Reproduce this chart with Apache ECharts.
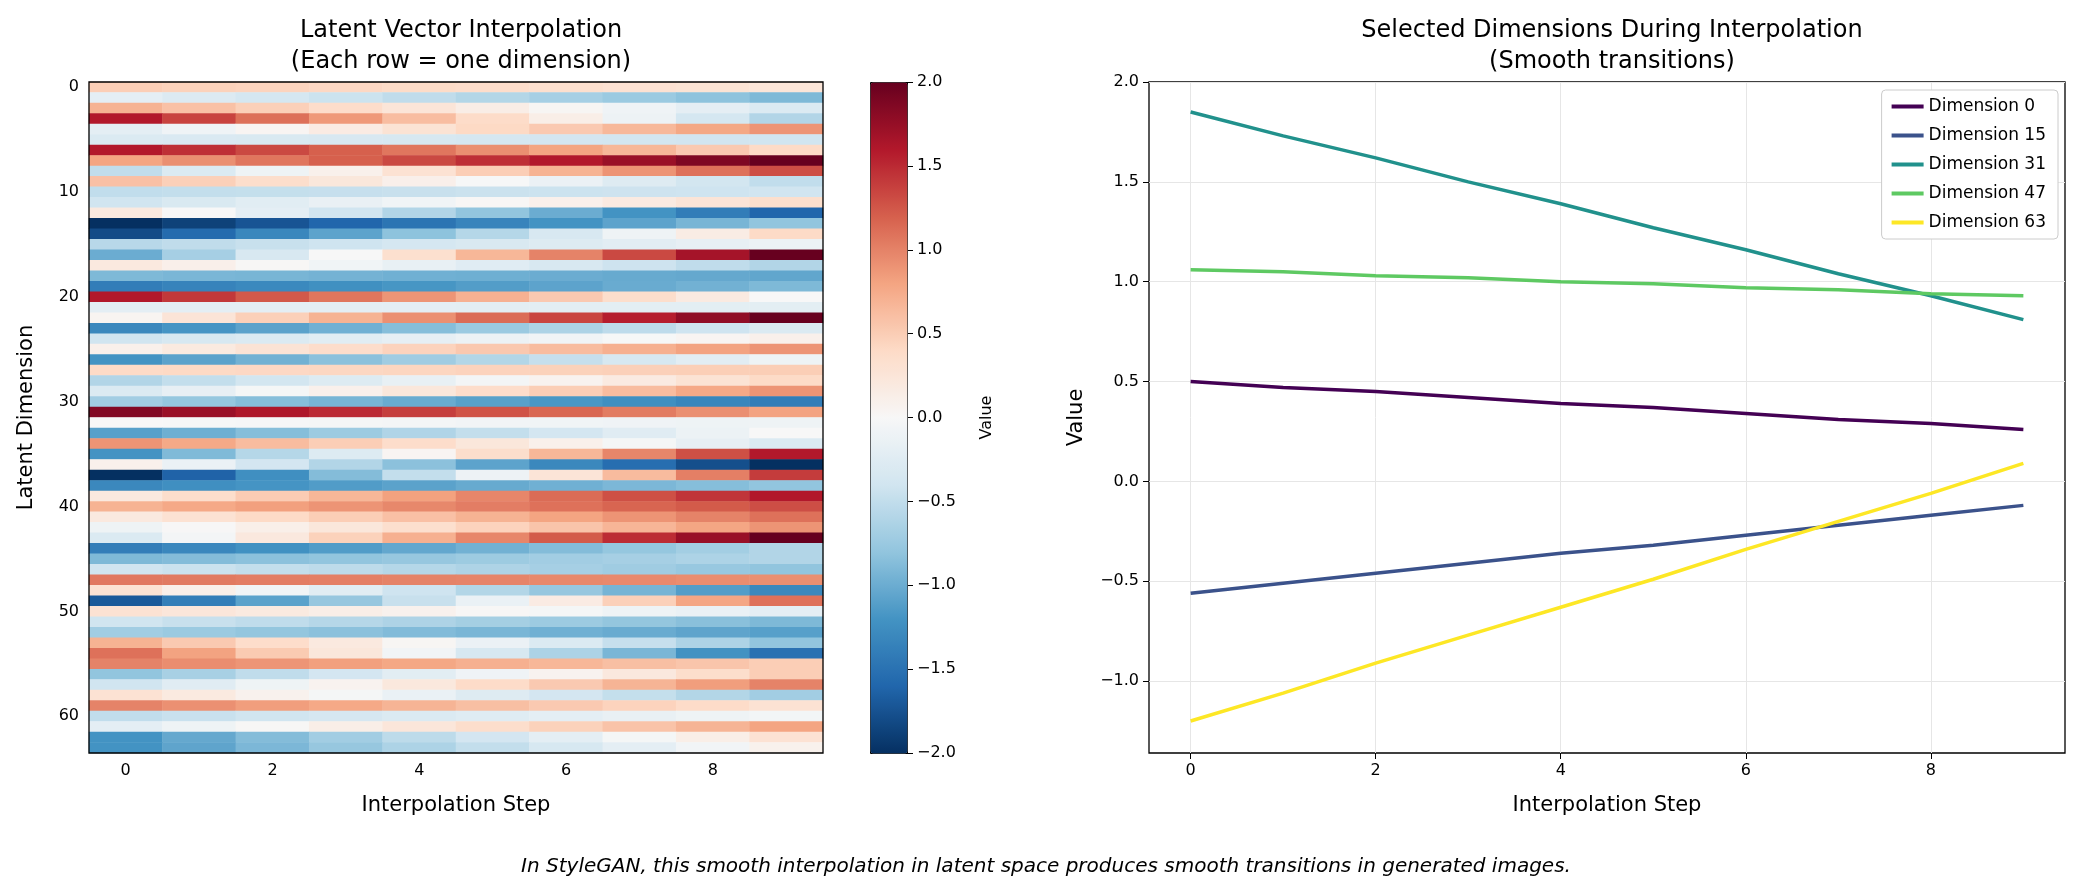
<!DOCTYPE html>
<html><head><meta charset="utf-8">
<script src="https://cdn.jsdelivr.net/npm/echarts@6/dist/echarts.min.js"></script>
<style>html,body{margin:0;padding:0;background:#fff}#c{width:2082px;height:893px}</style>
</head><body><div id="c"></div>
<script>
const steps = [0,1,2,3,4,5,6,7,8,9];
const dims = Array.from({length:64},(_, i)=>String(i));
const latentRows = [
[0.5,0.47,0.45,0.42,0.39,0.37,0.34,0.31,0.29,0.26],
[-0.2,-0.28,-0.36,-0.43,-0.51,-0.59,-0.67,-0.74,-0.82,-0.9],
[0.7,0.59,0.48,0.37,0.26,0.14,0.03,-0.08,-0.19,-0.3],
[1.6,1.36,1.11,0.87,0.62,0.38,0.13,-0.11,-0.36,-0.6],
[-0.2,-0.08,0.04,0.17,0.29,0.41,0.53,0.66,0.78,0.9],
[-0.3,-0.31,-0.32,-0.33,-0.34,-0.36,-0.37,-0.38,-0.39,-0.4],
[1.6,1.47,1.33,1.2,1.07,0.93,0.8,0.67,0.53,0.4],
[0.8,0.93,1.07,1.2,1.33,1.47,1.6,1.73,1.87,2.0],
[-0.5,-0.3,-0.1,0.1,0.3,0.5,0.7,0.9,1.1,1.3],
[0.6,0.48,0.36,0.23,0.11,-0.01,-0.13,-0.26,-0.38,-0.5],
[-0.5,-0.49,-0.48,-0.47,-0.46,-0.44,-0.43,-0.42,-0.41,-0.4],
[-0.4,-0.32,-0.23,-0.15,-0.07,0.02,0.1,0.18,0.27,0.35],
[0.2,0,-0.2,-0.4,-0.6,-0.8,-1.0,-1.2,-1.4,-1.6],
[-2,-1.87,-1.73,-1.6,-1.47,-1.33,-1.2,-1.07,-0.93,-0.8],
[-1.8,-1.56,-1.31,-1.07,-0.82,-0.58,-0.33,-0.09,0.16,0.4],
[-0.56,-0.51,-0.46,-0.41,-0.36,-0.32,-0.27,-0.22,-0.17,-0.12],
[-1,-0.67,-0.33,0,0.33,0.67,1,1.33,1.67,2],
[0.2,0.11,0.02,-0.07,-0.16,-0.24,-0.33,-0.42,-0.51,-0.6],
[-0.9,-0.92,-0.93,-0.95,-0.97,-0.98,-1,-1.02,-1.03,-1.05],
[-1.4,-1.34,-1.29,-1.23,-1.18,-1.12,-1.07,-1.01,-0.96,-0.9],
[1.6,1.42,1.24,1.07,0.89,0.71,0.53,0.36,0.18,0],
[-0.2,-0.2,-0.2,-0.2,-0.2,-0.21,-0.21,-0.21,-0.21,-0.21],
[0.05,0.27,0.48,0.7,0.92,1.13,1.35,1.57,1.78,2.0],
[-1.3,-1.19,-1.08,-0.97,-0.86,-0.74,-0.63,-0.52,-0.41,-0.3],
[-0.4,-0.34,-0.29,-0.23,-0.18,-0.12,-0.07,-0.01,0.04,0.1],
[0.1,0.19,0.28,0.37,0.46,0.54,0.63,0.72,0.81,0.9],
[-1.2,-1.08,-0.96,-0.83,-0.71,-0.59,-0.47,-0.34,-0.22,-0.1],
[0.4,0.41,0.42,0.43,0.44,0.46,0.47,0.48,0.49,0.5],
[-0.6,-0.49,-0.38,-0.27,-0.16,-0.04,0.07,0.18,0.29,0.4],
[-0.3,-0.17,-0.03,0.1,0.23,0.37,0.5,0.63,0.77,0.9],
[-0.7,-0.78,-0.86,-0.93,-1.01,-1.09,-1.17,-1.24,-1.32,-1.4],
[1.85,1.73,1.62,1.5,1.39,1.27,1.16,1.04,0.93,0.81],
[0,-0.01,-0.02,-0.03,-0.04,-0.06,-0.07,-0.08,-0.09,-0.1],
[-1.1,-0.98,-0.86,-0.73,-0.61,-0.49,-0.37,-0.24,-0.12,0],
[0.9,0.77,0.63,0.5,0.37,0.23,0.1,-0.03,-0.17,-0.3],
[-1.2,-0.89,-0.58,-0.27,0.04,0.36,0.67,0.98,1.29,1.6],
[0.1,-0.13,-0.37,-0.6,-0.83,-1.07,-1.3,-1.53,-1.77,-2.0],
[-2,-1.62,-1.24,-0.87,-0.49,-0.11,0.27,0.64,1.02,1.4],
[-1.3,-1.24,-1.19,-1.13,-1.08,-1.02,-0.97,-0.91,-0.86,-0.8],
[0.2,0.36,0.51,0.67,0.82,0.98,1.13,1.29,1.44,1.6],
[0.7,0.77,0.83,0.9,0.97,1.03,1.1,1.17,1.23,1.3],
[0.2,0.3,0.4,0.5,0.6,0.7,0.8,0.9,1.0,1.1],
[-0.1,0.01,0.12,0.23,0.34,0.46,0.57,0.68,0.79,0.9],
[-0.3,-0.04,0.21,0.47,0.72,0.98,1.23,1.49,1.74,2.0],
[-1.4,-1.31,-1.22,-1.13,-1.04,-0.96,-0.87,-0.78,-0.69,-0.6],
[-0.9,-0.87,-0.83,-0.8,-0.77,-0.73,-0.7,-0.67,-0.63,-0.6],
[-0.4,-0.44,-0.49,-0.53,-0.58,-0.62,-0.67,-0.71,-0.76,-0.8],
[1.06,1.05,1.03,1.02,1.0,0.99,0.97,0.96,0.94,0.93],
[0.3,0.12,-0.06,-0.23,-0.41,-0.59,-0.77,-0.94,-1.12,-1.3],
[-1.7,-1.39,-1.08,-0.77,-0.46,-0.14,0.17,0.48,0.79,1.1],
[0.3,0.24,0.19,0.13,0.08,0.02,-0.03,-0.09,-0.14,-0.2],
[-0.4,-0.46,-0.51,-0.57,-0.62,-0.68,-0.73,-0.79,-0.84,-0.9],
[-0.7,-0.74,-0.79,-0.83,-0.88,-0.92,-0.97,-1.01,-1.06,-1.1],
[0.7,0.53,0.37,0.2,0.03,-0.13,-0.3,-0.47,-0.63,-0.8],
[1.1,0.81,0.52,0.23,-0.06,-0.34,-0.63,-0.92,-1.21,-1.5],
[1,0.94,0.89,0.83,0.78,0.72,0.67,0.61,0.56,0.5],
[-0.8,-0.66,-0.51,-0.37,-0.22,-0.08,0.07,0.21,0.36,0.5],
[-0.4,-0.24,-0.09,0.07,0.22,0.38,0.53,0.69,0.84,1.0],
[0.3,0.19,0.08,-0.03,-0.14,-0.26,-0.37,-0.48,-0.59,-0.7],
[1,0.92,0.84,0.77,0.69,0.61,0.53,0.46,0.38,0.3],
[-0.5,-0.45,-0.4,-0.35,-0.3,-0.25,-0.2,-0.15,-0.1,-0.05],
[-0.2,-0.09,0.02,0.13,0.24,0.36,0.47,0.58,0.69,0.8],
[-1.2,-1.03,-0.87,-0.7,-0.53,-0.37,-0.2,-0.03,0.13,0.3],
[-1.2,-1.06,-0.91,-0.77,-0.63,-0.49,-0.34,-0.2,-0.06,0.09]
];
const selectedDims = [0,15,31,47,63];
const lineColors = ['#440154','#3b528b','#21918c','#5ec962','#fde725'];
const xTicks = [0,2,4,6,8];
const yTicks = [-1,-0.5,0,0.5,1,1.5,2];

const heatData = [];
latentRows.forEach((row, r) => row.forEach((v, c) => heatData.push([c, r, v])));
const F = 'DejaVu Sans';
const lab = {fontFamily:F, fontSize:16, color:'#000'};
const fmt = (v)=>v<0?'\u2212'+Math.abs(v).toFixed(1):v.toFixed(1);
const hiddenLine = {show:false, onZero:false};
const chart = echarts.init(document.getElementById('c'), null, {renderer:'canvas'});
chart.setOption({
  animation:false,
  backgroundColor:'#fff',
  textStyle:{fontFamily:F},
  title:[
    {text:'Latent Vector Interpolation\n(Each row = one dimension)', left:456, top:10, textAlign:'center',
     textStyle:{fontFamily:F, fontSize:24, fontWeight:'normal', color:'#000', lineHeight:31}},
    {text:'Selected Dimensions During Interpolation\n(Smooth transitions)', left:1607, top:10, textAlign:'center',
     textStyle:{fontFamily:F, fontSize:24, fontWeight:'normal', color:'#000', lineHeight:31}},
    {text:'In StyleGAN, this smooth interpolation in latent space produces smooth transitions in generated images.',
     left:1041, top:852, textAlign:'center',
     textStyle:{fontFamily:F, fontSize:20, fontStyle:'italic', fontWeight:'normal', color:'#000'}}
  ],
  grid:[
    {left:89, top:82, width:734, height:671, show:true, borderColor:'#000', borderWidth:1.3, backgroundColor:'transparent', z:5},
    {left:1149, top:82, right:17, height:671, show:true, borderColor:'#000', borderWidth:1.3},
    {left:870, top:82, width:37, height:671, show:false}
  ],
  xAxis:[
    {type:'category', gridIndex:0, data:steps, name:'Interpolation Step', nameLocation:'middle', nameGap:42,
     nameTextStyle:{fontFamily:F, fontSize:21, color:'#000'},
     axisLine:hiddenLine, splitLine:{show:false},
     axisTick:{alignWithLabel:true, interval:(i)=>i%2===0, length:6, lineStyle:{color:'#000'}},
     axisLabel:Object.assign({interval:(i)=>i%2===0, margin:10}, lab)},
    {type:'value', gridIndex:1, min:-0.45, max:9.45, name:'Interpolation Step', nameLocation:'middle', nameGap:42,
     nameTextStyle:{fontFamily:F, fontSize:21, color:'#000'},
     axisLine:hiddenLine,
     axisTick:{show:true, customValues:xTicks, length:6, lineStyle:{color:'#000'}},
     axisLabel:Object.assign({customValues:xTicks, margin:10}, lab),
     splitLine:{show:true, customValues:xTicks, lineStyle:{color:'#e6e6e6'}}},
    {type:'value', gridIndex:2, show:false, min:0, max:1}
  ],
  yAxis:[
    {type:'category', gridIndex:0, data:dims, inverse:true, name:'Latent Dimension', nameLocation:'middle', nameGap:52,
     nameTextStyle:{fontFamily:F, fontSize:21, color:'#000'},
     axisLine:hiddenLine, splitLine:{show:false},
     axisTick:{alignWithLabel:true, interval:(i)=>i%10===0, length:6, lineStyle:{color:'#000'}},
     axisLabel:Object.assign({interval:(i)=>i%10===0, margin:10}, lab)},
    {type:'value', gridIndex:1, min:-1.36, max:2.0, name:'Value', nameLocation:'middle', nameGap:62,
     nameTextStyle:{fontFamily:F, fontSize:21, color:'#000'},
     axisLine:hiddenLine,
     axisTick:{show:true, customValues:yTicks, length:6, lineStyle:{color:'#000'}},
     axisLabel:Object.assign({customValues:yTicks, margin:10, formatter:fmt}, lab),
     splitLine:{show:true, customValues:yTicks, lineStyle:{color:'#e6e6e6'}}},
    {type:'value', gridIndex:2, min:-2, max:2, interval:0.5, position:'right', name:'Value', nameLocation:'middle', nameGap:72,
     nameRotate:90, nameTextStyle:{fontFamily:F, fontSize:16, color:'#000'},
     axisLine:hiddenLine, splitLine:{show:false},
     axisTick:{show:true, length:6, lineStyle:{color:'#000'}},
     axisLabel:Object.assign({margin:10, formatter:fmt}, lab)}
  ],
  visualMap:{type:'continuous', seriesIndex:0, min:-2, max:2, calculable:false, show:true,
    left:870, top:82, itemWidth:37, itemHeight:671, text:null, showLabel:false, hoverLink:false,
    borderColor:'#000', borderWidth:1, padding:0,
    inRange:{color:['#053061','#2166ac','#4393c3','#92c5de','#d1e5f0','#f7f7f7','#fddbc7','#f4a582','#d6604d','#b2182b','#67001f']}},
  legend:{show:true, orient:'vertical', right:24, top:90, itemWidth:32, itemHeight:4, itemGap:12,
    backgroundColor:'#fff', borderColor:'#ccc', borderWidth:1, borderRadius:4, padding:[8,12,8,10],
    textStyle:{fontFamily:F, fontSize:17, color:'#000'},
    data:selectedDims.map(d=>({name:'Dimension '+d, icon:'rect'}))},
  series:[
    {type:'heatmap', xAxisIndex:0, yAxisIndex:0, data:heatData, itemStyle:{borderWidth:0}, emphasis:{disabled:true}},
    ...selectedDims.map((d,i)=>({type:'line', name:'Dimension '+d, xAxisIndex:1, yAxisIndex:1, showSymbol:false,
      color:lineColors[i], lineStyle:{width:3.5, color:lineColors[i]},
      data:steps.map((s,j)=>[s, latentRows[d][j]])})),
    {type:'line', xAxisIndex:2, yAxisIndex:2, data:[], silent:true}
  ]
});
</script></body></html>
